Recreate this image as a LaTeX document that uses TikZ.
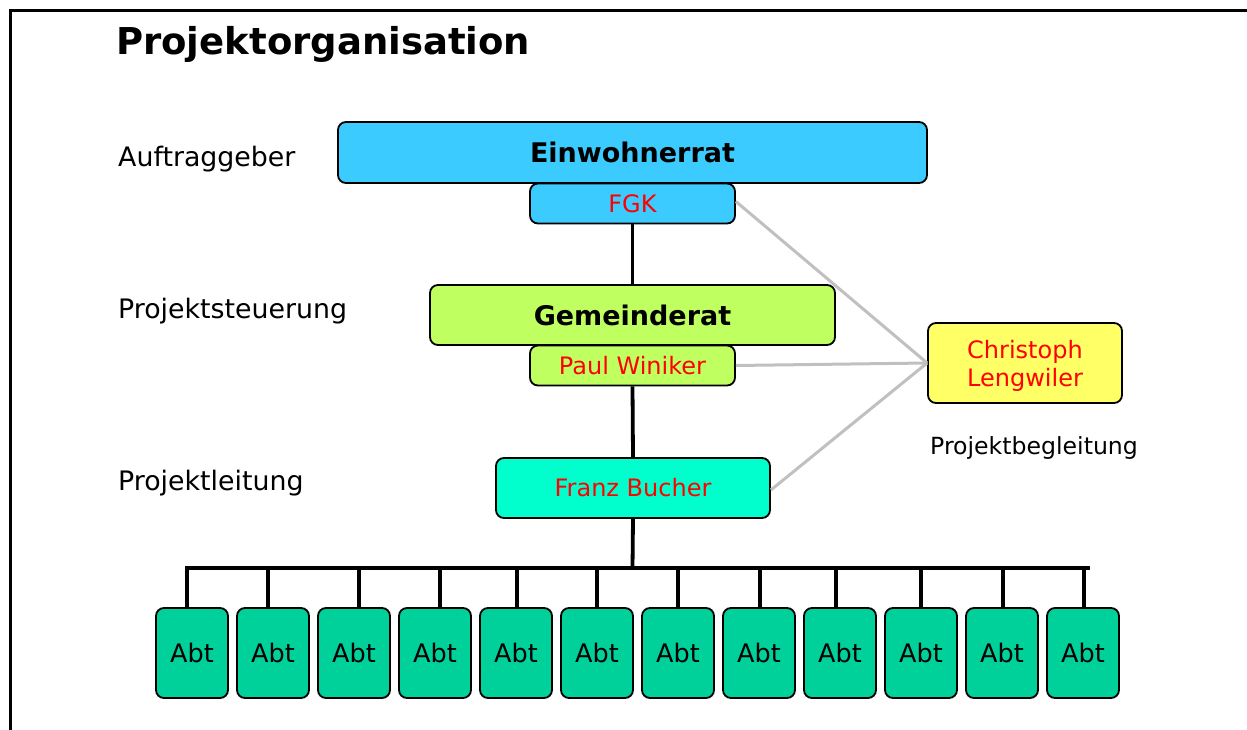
\documentclass[tikz,border=0pt]{standalone}
\usepackage{fontspec}
\setmainfont{DejaVu Sans}
\begin{document}
\begin{tikzpicture}[x=1pt,y=-1pt,
  box/.style={draw=black, line width=1.8pt, rounded corners=8pt, inner sep=0pt, align=center},
  redtxt/.style={text=txtred, font=\fontsize{24}{28}\selectfont},
  boldtxt/.style={font=\bfseries\fontsize{27}{32}\selectfont},
  lbl/.style={anchor=west, inner sep=0pt, font=\fontsize{26.8}{30}\selectfont},
  conn/.style={line width=3.8pt, black},
  grayconn/.style={line width=3pt, draw=grayline},
  abtbox/.style={box, fill=abtgreen, minimum width=72pt, minimum height=90pt, font=\fontsize{25.5}{30}\selectfont}
]
\definecolor{einblue}{HTML}{3CCBFF}
\definecolor{gemgreen}{HTML}{C0FF60}
\definecolor{franzaqua}{HTML}{00FFCC}
\definecolor{chrisyellow}{HTML}{FFFF66}
\definecolor{abtgreen}{HTML}{00D09A}
\definecolor{txtred}{HTML}{FF0000}
\definecolor{grayline}{HTML}{C0C0C0}

\useasboundingbox (0,0) rectangle (1247,730);
\draw[line width=3pt] (1247,11) -- (10,11) -- (10,730);

\node[anchor=base west, inner sep=0pt, font=\bfseries\fontsize{37}{40}\selectfont] (title) at (116,55) {Projektorganisation};

\node[lbl] (lauf) at (118,159) {Auftraggeber};
\node[lbl] (lsteu) at (118,311) {Projektsteuerung};
\node[lbl] (lleit) at (118,483) {Projektleitung};

% boxes
\node[box, fill=einblue, minimum width=589pt, minimum height=61pt, boldtxt] (ein) at (632.5,152.5) {Einwohnerrat};
\node[box, fill=einblue, minimum width=205pt, minimum height=40pt, redtxt] (fgk) at (632.5,203.5) {FGK};
\node[box, fill=gemgreen, minimum width=405pt, minimum height=60pt, boldtxt] (gem) at (632.5,315) {Gemeinderat};
\node[box, fill=gemgreen, minimum width=205pt, minimum height=40pt, redtxt] (paul) at (632.5,365.5) {Paul Winiker};
\node[box, fill=franzaqua, minimum width=274pt, minimum height=60pt, redtxt] (franz) at (633,488) {Franz Bucher};
\node[box, fill=chrisyellow, minimum width=194pt, minimum height=80pt] (chris) at (1025,363) {};
\node[align=center, inner sep=0pt, text=txtred, font=\fontsize{24}{28.5}\selectfont] (christxt) at ([yshift=-3pt]chris.center) {Christoph\\Lengwiler};
\node[anchor=base west, inner sep=0pt, font=\fontsize{23.6}{28}\selectfont] (lbeg) at (930,454) {Projektbegleitung};

% gray connectors
\draw[grayconn] ([yshift=2pt]fgk.east) -- (chris.west);
\draw[grayconn] (paul.east) -- (chris.west);
\draw[grayconn] ([yshift=-2pt]franz.east) -- (chris.west);

% black connectors
\draw[conn] (fgk.south) -- (gem.north);
\draw[conn] (paul.south) -- (franz.north);
\coordinate (barmid) at (632.5,568);
\coordinate (barL) at (185,568);
\coordinate (barR) at (1089.5,568);
\draw[conn] (franz.south) -- (barmid);
\draw[conn] (barL) -- (barR);

% Abt boxes
\foreach \i/\dx in {1/-5, 2/-5, 3/5, 4/5, 5/1, 6/0, 7/0, 8/1, 9/-4, 10/0, 11/1, 12/1} {
  \node[abtbox] (abt\i) at ({192+81*(\i-1)},653) {Abt};
  \draw[conn] ([xshift=\dx pt]abt\i.north) -- ([xshift=\dx pt]abt\i.north |- barL);
}
\end{tikzpicture}
\end{document}
